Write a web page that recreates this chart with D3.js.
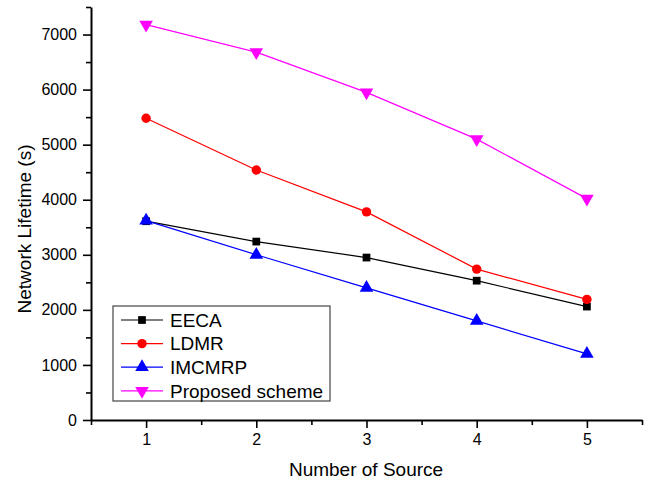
<!DOCTYPE html>
<html>
<head>
<meta charset="utf-8">
<script src="https://cdn.jsdelivr.net/npm/d3@7"></script>
<style>
  body { margin: 0; background: #fff; }
  svg text { font-family: "Liberation Sans", Arial, Helvetica, sans-serif; fill: #000; }
</style>
</head>
<body>
<svg id="chart" width="653" height="481"></svg>
<script>
var sources = [1, 2, 3, 4, 5];
var eeca = [3610, 3240, 2950, 2530, 2060];
var ldmr = [5480, 4540, 3780, 2740, 2190];
var imcmrp = [3620, 3000, 2400, 1800, 1200];
var proposed = [7180, 6680, 5950, 5100, 4020];
var yTicks = [0, 1000, 2000, 3000, 4000, 5000, 6000, 7000];

var series = [
  { name: "EECA", values: eeca, color: "#000000", symbol: d3.symbolSquare, size: 60, rot: 0 },
  { name: "LDMR", values: ldmr, color: "#ff0000", symbol: d3.symbolCircle, size: 70, rot: 0 },
  { name: "IMCMRP", values: imcmrp, color: "#0000ff", symbol: d3.symbolTriangle, size: 80, rot: 0 },
  { name: "Proposed scheme", values: proposed, color: "#ff00ff", symbol: d3.symbolTriangle, size: 80, rot: 180 }
];

var svg = d3.select("#chart");
var margin = { left: 91, right: 11, top: 7, bottom: 61 };
var width = 653 - margin.left - margin.right,
    height = 481 - margin.top - margin.bottom;

var x = d3.scaleLinear().domain([0.5, 5.5]).range([0, width]);
var y = d3.scaleLinear().domain([0, 7500]).range([height, 0]);

var g = svg.append("g").attr("transform", "translate(" + margin.left + "," + margin.top + ")");

// minor ticks
var xMinor = d3.range(0.5, 5.51, 0.5).filter(function(v){ return v % 1 !== 0; });
var yMinor = d3.range(500, 7501, 1000);

g.append("g")
  .attr("transform", "translate(0," + height + ")")
  .call(d3.axisBottom(x).tickValues(xMinor).tickSize(5).tickFormat(""))
  .call(function(a){ a.select(".domain").remove(); a.selectAll("line").attr("stroke-width", 1.6); });

g.append("g")
  .call(d3.axisLeft(y).tickValues(yMinor).tickSize(5).tickFormat(""))
  .call(function(a){ a.select(".domain").remove(); a.selectAll("line").attr("stroke-width", 1.6); });

var xAxis = g.append("g")
  .attr("transform", "translate(0," + height + ")")
  .call(d3.axisBottom(x).tickValues(sources).tickSize(8).tickSizeOuter(0).tickPadding(6).tickFormat(d3.format("d")));

var yAxis = g.append("g")
  .call(d3.axisLeft(y).tickValues(yTicks).tickSize(8).tickSizeOuter(0).tickPadding(6).tickFormat(d3.format("d")));

[xAxis, yAxis].forEach(function(a){
  a.select(".domain").attr("stroke-width", 2);
  a.selectAll(".tick line").attr("stroke-width", 1.6);
  a.selectAll("text").style("font-size", "16px");
});

var line = d3.line()
  .x(function(d, i){ return x(sources[i]); })
  .y(function(d){ return y(d); });

series.forEach(function(s){
  g.append("path")
    .datum(s.values)
    .attr("fill", "none")
    .attr("stroke", s.color)
    .attr("stroke-width", 1.2)
    .attr("d", line);

  g.selectAll(null)
    .data(s.values)
    .enter().append("path")
    .attr("d", d3.symbol().type(s.symbol).size(s.size))
    .attr("fill", s.color)
    .attr("transform", function(d, i){
      return "translate(" + x(sources[i]) + "," + y(d) + ") rotate(" + s.rot + ")";
    });
});

// legend
var legend = svg.append("g").attr("transform", "translate(113,306)");
legend.append("rect")
  .attr("width", 217).attr("height", 95)
  .attr("fill", "#fff").attr("stroke", "#444").attr("stroke-width", 1.2);

var item = legend.selectAll("g.item")
  .data(series)
  .enter().append("g")
  .attr("class", "item")
  .attr("transform", function(d, i){ return "translate(0," + (14 + i * 23.6) + ")"; });

item.append("line")
  .attr("x1", 8).attr("x2", 50)
  .attr("stroke", function(d){ return d.color; })
  .attr("stroke-width", 1.2);

item.append("path")
  .attr("d", function(d){ return d3.symbol().type(d.symbol).size(d.size)(); })
  .attr("fill", function(d){ return d.color; })
  .attr("transform", function(d){ return "translate(29,0) rotate(" + d.rot + ")"; });

item.append("text")
  .attr("x", 57).attr("dy", "0.36em")
  .style("font-size", "19px")
  .text(function(d){ return d.name; });

// axis titles
svg.append("text")
  .attr("x", 366).attr("y", 476)
  .attr("text-anchor", "middle")
  .style("font-size", "19px")
  .text("Number of Source");

svg.append("text")
  .attr("transform", "translate(31," + 229 + ") rotate(-90)")
  .attr("text-anchor", "middle")
  .style("font-size", "19px")
  .text("Network Lifetime (s)");
</script>
</body>
</html>
